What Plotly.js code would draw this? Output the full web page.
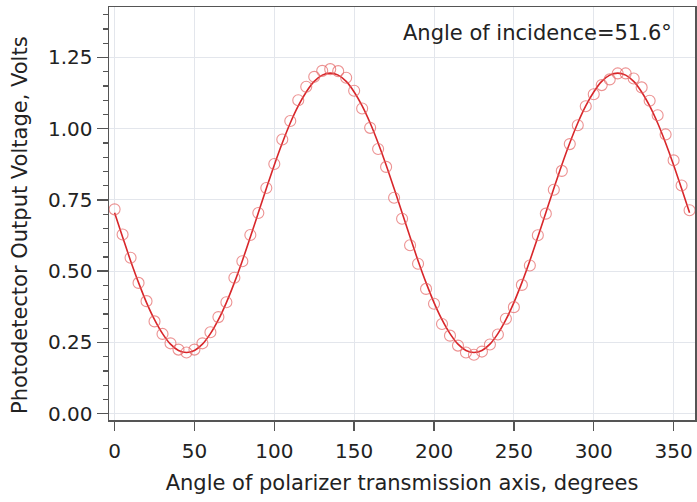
<!DOCTYPE html>
<html>
<head>
<meta charset="utf-8">
<script src="https://cdn.plot.ly/plotly-3.0.1.min.js"></script>
<style>html,body{margin:0;padding:0;background:#fff;}#chart{width:697px;height:502px;}</style>
</head>
<body>
<div id="chart"></div>
<script>
// Polarizer angle, degrees
var angles = [0,5,10,15,20,25,30,35,40,45,50,55,60,65,70,75,80,85,90,95,100,105,110,115,120,125,130,135,140,145,150,155,160,165,170,175,180,185,190,195,200,205,210,215,220,225,230,235,240,245,250,255,260,265,270,275,280,285,290,295,300,305,310,315,320,325,330,335,340,345,350,355,360];
// Measured photodetector voltage (open circles)
var measured = [0.717,0.629,0.547,0.459,0.395,0.324,0.280,0.247,0.225,0.215,0.225,0.247,0.286,0.339,0.391,0.477,0.535,0.627,0.704,0.792,0.876,0.962,1.027,1.100,1.147,1.182,1.203,1.209,1.202,1.179,1.133,1.071,1.003,0.929,0.866,0.758,0.684,0.591,0.526,0.438,0.386,0.315,0.274,0.239,0.215,0.207,0.218,0.243,0.278,0.333,0.374,0.452,0.520,0.626,0.702,0.786,0.852,0.946,1.012,1.079,1.121,1.153,1.173,1.194,1.194,1.176,1.145,1.098,1.047,0.980,0.889,0.801,0.714];
// Fitted curve (solid line)
var fitted = [0.705,0.620,0.537,0.460,0.390,0.330,0.281,0.244,0.222,0.215,0.222,0.244,0.281,0.330,0.390,0.460,0.537,0.620,0.705,0.790,0.873,0.950,1.020,1.080,1.129,1.166,1.188,1.195,1.188,1.166,1.129,1.080,1.020,0.950,0.873,0.790,0.705,0.620,0.537,0.460,0.390,0.330,0.281,0.244,0.222,0.215,0.222,0.244,0.281,0.330,0.390,0.460,0.537,0.620,0.705,0.790,0.873,0.950,1.020,1.080,1.129,1.166,1.188,1.195,1.188,1.166,1.129,1.080,1.020,0.950,0.873,0.790,0.705];
var xTicks = [0,50,100,150,200,250,300,350];
var yTicks = [0,0.25,0.5,0.75,1.0,1.25];
var yTickText = ["0.00","0.25","0.50","0.75","1.00","1.25"];
var annotationText = "Angle of incidence=51.6°";
var xTitle = "Angle of polarizer transmission axis, degrees";
var yTitle = "Photodetector Output Voltage, Volts";

var FONT = "DejaVu Sans, Open Sans, sans-serif";

var traces = [
  {
    x: angles, y: fitted, type: 'scatter', mode: 'lines',
    line: {color: '#d8262a', width: 1.6, shape: 'spline', smoothing: 1},
    hoverinfo: 'skip', showlegend: false
  },
  {
    x: angles, y: measured, type: 'scatter', mode: 'markers',
    marker: {symbol: 'circle-open', size: 11, color: 'rgba(228,100,100,0.7)', line: {width: 1.1}},
    showlegend: false
  }
];

var layout = {
  width: 697, height: 502,
  margin: {l: 109, r: 2, t: 7, b: 82},
  paper_bgcolor: '#ffffff', plot_bgcolor: '#ffffff',
  font: {family: FONT, size: 20, color: '#222'},
  showlegend: false,
  xaxis: {
    range: [-3.5, 363.4],
    tickvals: xTicks, ticktext: xTicks.map(String),
    ticks: 'outside', ticklen: 9, tickwidth: 1.5, tickcolor: '#555',
    ticklabelstandoff: 3,
    showline: true, linecolor: '#555', linewidth: 1.5, mirror: true,
    showgrid: true, gridcolor: '#e3e6ec', gridwidth: 1,
    zeroline: false,
    tickfont: {family: FONT, size: 20, color: '#222'},
    title: {text: xTitle, font: {family: FONT, size: 21, color: '#222'}, standoff: 14}
  },
  yaxis: {
    range: [-0.022, 1.427],
    tickvals: yTicks, ticktext: yTickText,
    ticks: 'outside', ticklen: 11, tickwidth: 1.5, tickcolor: '#555',
    minor: {dtick: 0.05, ticks: 'outside', ticklen: 5, tickwidth: 1.2, tickcolor: '#555', showgrid: false},
    showline: true, linecolor: '#555', linewidth: 1.5, mirror: 'ticks',
    showgrid: true, gridcolor: '#e3e6ec', gridwidth: 1,
    zeroline: false,
    tickfont: {family: FONT, size: 20, color: '#222'}
  },
  annotations: [
    {
      text: annotationText, xref: 'paper', yref: 'paper',
      x: 0.965, y: 0.97, xanchor: 'right', yanchor: 'top', showarrow: false,
      font: {family: FONT, size: 21, color: '#222'}
    },
    {
      text: yTitle, xref: 'paper', yref: 'paper',
      x: -0.152, y: 0.472, xanchor: 'center', yanchor: 'middle', textangle: -90, showarrow: false,
      font: {family: FONT, size: 21, color: '#222'}
    }
  ]
};

Plotly.newPlot('chart', traces, layout, {displayModeBar: false, staticPlot: true});
</script>
</body>
</html>
